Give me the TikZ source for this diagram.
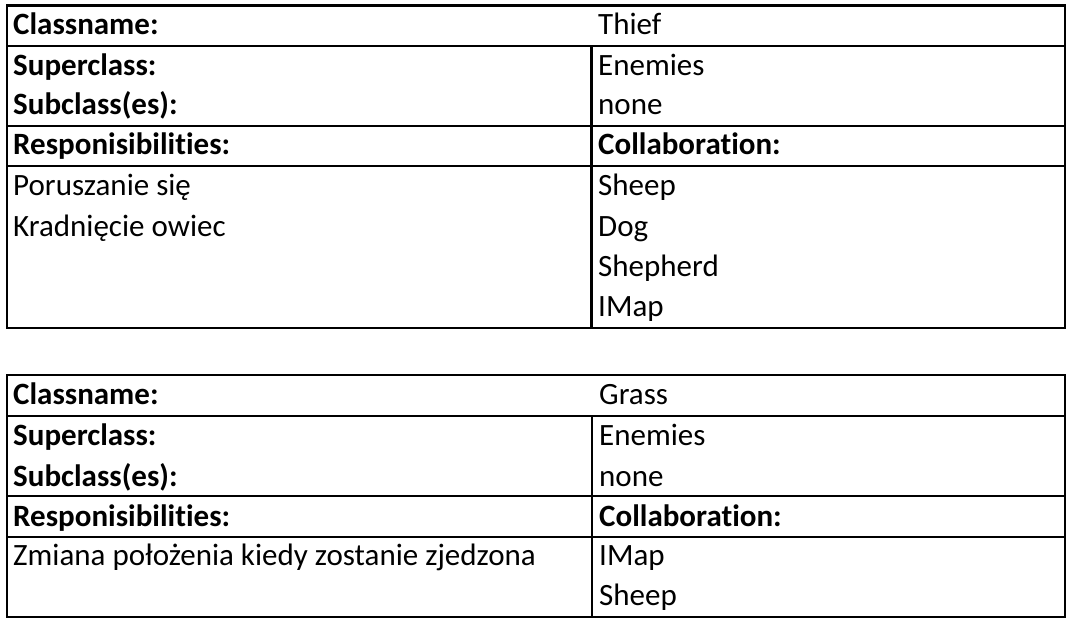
\documentclass[tikz,border=0pt]{standalone}
\usepackage{fontspec}
\setmainfont{Carlito}[Ligatures=NoCommon]
\begin{document}
\begin{tikzpicture}[x=1pt,y=-1pt,
  grid/.style={line width=2.6pt,black},
  txt/.style={anchor=base west,inner sep=0pt,font=\fontsize{31}{33}\selectfont},
  hd/.style={txt,font=\fontsize{31}{33}\selectfont\bfseries}]
\useasboundingbox (0,0) rectangle (1080,644);
% ---------- Thief ----------
\draw[grid] (7,5.5) rectangle (1065,328);
\draw[grid] (7,46) -- (1065,46);
\draw[grid] (7,126) -- (1065,126);
\draw[grid] (7,166) -- (1065,166);
\draw[grid] (591.5,46) -- (591.5,328);
\node[hd]  (a1) at (13,35)  {Classname:};
\node[txt] (a2) at (598,35) {Thief};
\node[hd]  (a3) at (13,76)  {Superclass:};
\node[txt] (a4) at (598,76) {Enemies};
\node[hd]  (a5) at (13,115) {Subclass(es):};
\node[txt] (a6) at (598,115) {none};
\node[hd]  (a7) at (13,155) {Responisibilities:};
\node[hd]  (a8) at (598,155) {Collaboration:};
\node[txt] (a9) at (13,196) {Poruszanie się};
\node[txt] (a10) at (13,237) {Kradnięcie owiec};
\node[txt] (a11) at (598,196) {Sheep};
\node[txt] (a12) at (598,237) {Dog};
\node[txt] (a13) at (598,277) {Shepherd};
\node[txt] (a14) at (598,317) {IMap};
% ---------- Grass ----------
\draw[grid] (7,375) rectangle (1065,617);
\draw[grid] (7,416) -- (1065,416);
\draw[grid] (7,496) -- (1065,496);
\draw[grid] (7,537) -- (1065,537);
\draw[grid] (592,416) -- (592,617);
\node[hd]  (b1) at (13,405)  {Classname:};
\node[txt] (b2) at (599,405) {Grass};
\node[hd]  (b3) at (13,446)  {Superclass:};
\node[txt] (b4) at (599,446) {Enemies};
\node[hd]  (b5) at (13,486) {Subclass(es):};
\node[txt] (b6) at (599,486) {none};
\node[hd]  (b7) at (13,526) {Responisibilities:};
\node[hd]  (b8) at (599,526) {Collaboration:};
\node[txt] (b9) at (13,565) {Zmiana położenia kiedy zostanie zjedzona};
\node[txt] (b10) at (599,565) {IMap};
\node[txt] (b11) at (599,605) {Sheep};
\end{tikzpicture}
\end{document}
